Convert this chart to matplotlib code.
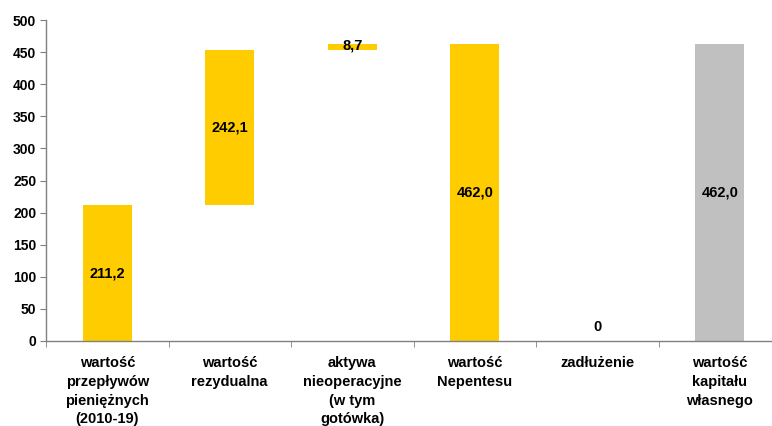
import matplotlib.pyplot as plt
import numpy as np

plt.rcParams['font.family'] = ['Liberation Sans', 'DejaVu Sans']

categories = ['wartość\nprzepływów\npieniężnych\n(2010-19)',
              'wartość\nrezydualna',
              'aktywa\nnieoperacyjne\n(w tym\ngotówka)',
              'wartość\nNepentesu',
              'zadłużenie',
              'wartość\nkapitału\nwłasnego']
steps = [211.2, 242.1, 8.7]
total_nepentes = 462.0
debt = 0.0
equity = 462.0
labels = ['211,2', '242,1', '8,7', '462,0', '0', '462,0']

yellow = '#FFCC00'
grey = '#C0C0C0'

# waterfall: each step starts where the previous one ended
bottoms = np.concatenate([[0], np.cumsum(steps)[:-1]])
heights = list(steps) + [total_nepentes, debt, equity]
bottoms = list(bottoms) + [0, 0, 0]
colors = [yellow, yellow, yellow, yellow, yellow, grey]
x = np.arange(len(categories))

fig = plt.figure(figsize=(7.72, 4.26), dpi=100)
ax = fig.add_axes([46 / 772, 1 - 341 / 426, 735 / 772, 321 / 426])

ax.bar(x, heights, bottom=bottoms, width=0.4, color=colors, edgecolor='none')

for xi, b, h, lab in zip(x, bottoms, heights, labels):
    if h == 0:
        ty = b + 22
    elif h < 20:
        ty = b + h / 2 + 2
    else:
        ty = b + h / 2
    ax.text(xi, ty, lab, ha='center', va='center', fontsize=10.5,
            fontweight='bold', color='black')

ax.set_xlim(-0.5, len(categories) - 0.5)
ax.set_ylim(0, 500)
ax.set_yticks(np.arange(0, 501, 50))

ax.set_xticks(x)
ax.set_xticklabels(categories, fontsize=10.5, fontweight='bold', linespacing=1.42)
ax.set_xticks(np.arange(-0.5, len(categories)), minor=True)
ax.tick_params(axis='x', which='major', length=0, pad=11)
ax.tick_params(axis='x', which='minor', length=4, color='#808080')
ax.tick_params(axis='y', length=4, color='#808080', labelsize=10, pad=3)
for t in ax.get_yticklabels():
    t.set_fontweight('bold')

for s in ['top', 'right']:
    ax.spines[s].set_visible(False)
for s in ['left', 'bottom']:
    ax.spines[s].set_color('#808080')
    ax.spines[s].set_linewidth(1.0)

fig.savefig('out.png', dpi=100)
